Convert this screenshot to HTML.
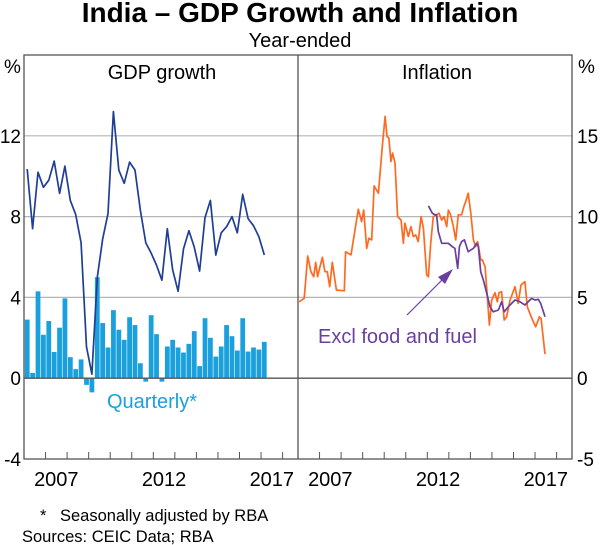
<!DOCTYPE html>
<html><head><meta charset="utf-8">
<style>
html,body{margin:0;padding:0;background:#fff;}
svg{display:block;font-family:"Liberation Sans",Arial,sans-serif;}
</style></head>
<body>
<svg id="chart" width="600" height="545" viewBox="0 0 600 545" xmlns="http://www.w3.org/2000/svg">
<text x="300" y="22" text-anchor="middle" font-size="28" font-weight="bold" fill="#000">India – GDP Growth and Inflation</text>
<text x="300" y="47" text-anchor="middle" font-size="20" fill="#000">Year-ended</text>
<text x="4" y="73" font-size="19">%</text>
<text x="578" y="73" font-size="19">%</text>
<text x="162" y="79" text-anchor="middle" font-size="20">GDP growth</text>
<text x="437" y="79" text-anchor="middle" font-size="20">Inflation</text>
<g id="grid"></g>
<g id="bars"></g>
<g id="lines"></g>
<g id="frame"></g>
<g id="axes"></g>
<text x="107" y="408" font-size="20" fill="#1aa0dc">Quarterly*</text>
<text x="318" y="343" font-size="20" fill="#6a3fa0">Excl food and fuel</text>
<line x1="407" y1="315" x2="446" y2="276" stroke="#6a3fa0" stroke-width="1.2"/>
<polygon points="453,269 438,277 445,284" fill="#6a3fa0"/>
<text x="40" y="521" font-size="16.5">*</text>
<text x="60" y="521" font-size="16.5">Seasonally adjusted by RBA</text>
<text x="22" y="542" font-size="16.5">Sources: CEIC Data; RBA</text>
</svg>
<script>
// ---- data ----
const gdpStart = 2006.15; // first quarter position (years)
const gdpYearEnded = [10.35,7.4,10.2,9.45,9.8,10.75,9.15,10.5,8.8,8.1,6.7,1.55,0.2,5.0,6.9,8.15,13.2,10.3,9.65,10.7,10.3,8.3,6.7,6.2,5.6,4.85,7.4,5.35,4.3,6.4,7.3,6.5,5.3,7.95,8.8,6.1,7.2,7.5,8.0,7.2,9.1,7.9,7.55,7.0,6.1];
const gdpQuarterly = [2.9,0.26,4.3,2.15,2.83,1.3,2.5,3.95,1.04,0.45,0.93,-0.33,-0.7,5.0,2.73,1.52,3.37,2.4,1.9,3.02,2.63,0.74,-0.17,3.12,2.18,-0.17,1.57,1.9,1.52,1.27,1.7,2.33,0.6,2.97,2.0,1.07,1.57,2.63,2.08,1.37,2.97,1.32,1.52,1.42,1.8];
const cpiDates = [2006.05,2006.29,2006.45,2006.60,2006.73,2006.82,2006.91,2007.02,2007.13,2007.25,2007.36,2007.47,2007.59,2007.78,2008.15,2008.21,2008.46,2008.80,2008.95,2009.05,2009.19,2009.29,2009.42,2009.53,2009.73,2009.91,2010.04,2010.13,2010.22,2010.31,2010.39,2010.50,2010.62,2010.78,2010.89,2010.96,2011.12,2011.24,2011.35,2011.46,2011.58,2011.71,2011.82,2011.97,2012.05,2012.16,2012.28,2012.43,2012.54,2012.67,2012.78,2012.90,2012.98,2013.08,2013.21,2013.32,2013.44,2013.59,2013.70,2013.78,2013.90,2014.03,2014.14,2014.24,2014.34,2014.48,2014.55,2014.68,2014.88,2014.99,2015.14,2015.25,2015.33,2015.45,2015.57,2015.68,2015.84,2016.07,2016.22,2016.35,2016.53,2016.64,2016.76,2016.92,2017.03,2017.20,2017.28,2017.46];
const cpiValues = [4.73,4.94,7.56,6.59,6.28,7.17,6.28,6.90,7.48,6.59,6.59,5.66,7.17,5.46,5.41,7.83,7.63,10.46,9.69,10.40,8.04,8.66,8.56,11.90,11.45,14.34,16.20,14.96,14.86,13.41,13.93,13.31,10.00,9.79,8.35,9.59,8.76,9.38,8.76,8.87,8.45,10.00,9.28,6.39,6.28,8.35,10.00,10.11,10.21,9.79,10.00,9.38,10.40,10.11,9.38,8.56,10.11,10.11,10.62,10.93,11.45,10.11,8.56,8.14,8.45,7.32,7.32,6.90,3.29,4.84,5.29,4.73,5.29,5.35,3.60,3.80,4.84,5.66,4.63,5.77,5.97,4.42,4.01,3.49,3.18,3.80,3.69,1.49];
const coreDates = [2012.05,2012.23,2012.36,2012.43,2012.51,2012.67,2012.98,2013.16,2013.28,2013.41,2013.49,2013.59,2013.72,2013.90,2014.14,2014.29,2014.37,2014.48,2014.60,2014.76,2014.91,2015.06,2015.30,2015.45,2015.57,2015.76,2016.07,2016.30,2016.53,2016.84,2017.00,2017.15,2017.26,2017.46];
const coreValues = [10.66,10.21,10.11,10.11,9.07,8.35,8.35,8.14,8.04,6.80,8.14,8.45,8.56,7.83,8.04,8.35,8.14,6.59,6.08,5.25,4.42,4.11,4.22,4.73,4.11,4.42,4.84,4.73,4.53,4.94,4.84,4.88,4.63,3.80];
const leftTicks = [-4,0,4,8,12];
const rightTicks = [-5,0,5,10,15];
const yearLabels = [2007,2012,2017];
const yearTicks = [2007,2008,2009,2010,2011,2012,2013,2014,2015,2016,2017,2018];

// ---- scales ----
const TOP=55, BOT=459, L0=24, L1=298, R1=572, PXY=21.55;
const xL = t => L0 + (t-2006)*PXY;
const xR = t => L1 + (t-2006)*PXY;
const yL = v => TOP + (16-v)/20*(BOT-TOP);
const yR = v => TOP + (20-v)/25*(BOT-TOP);
const NS="http://www.w3.org/2000/svg";
function mk(tag, attrs, parent){const e=document.createElementNS(NS,tag);for(const k in attrs)e.setAttribute(k,attrs[k]);parent.appendChild(e);return e;}
const grid=document.getElementById('grid'), bars=document.getElementById('bars'), lines=document.getElementById('lines'), frame=document.getElementById('frame'), axes=document.getElementById('axes');

leftTicks.forEach(v=>{
  if(v!==0 && v!==-4){
    const g=mk('line',{x1:L0,x2:R1,y1:yL(v),y2:yL(v),stroke:'#b5b5b5','stroke-width':1.2},grid);
    
    
  }
  const t=mk('text',{x:21,y:yL(v)+7,'text-anchor':'end','font-size':19},axes);
  t.textContent=v;
  
  
});
rightTicks.forEach(v=>{
  const t=mk('text',{x:577,y:yR(v)+7,'font-size':19},axes);
  t.textContent=v;
  
  
});

// bars
gdpQuarterly.forEach((v,i)=>{
  const t=gdpStart+0.25*i;
  const x=xL(t-0.125)+0.3, w=0.25*PXY-0.6;
  const y0=yL(0), y1=yL(v);
  const r=mk('rect',{x:x,y:Math.min(y0,y1),width:w,height:Math.abs(y1-y0),fill:'#1aa0dc'},bars);
  
  
});

function path(xs,ys,fx,fy,color,name){
  const d=xs.map((t,i)=>(i?'L':'M')+fx(t).toFixed(1)+','+fy(ys[i]).toFixed(1)).join(' ');
  const p=mk('path',{d:d,fill:'none',stroke:color,'stroke-width':1.7,'stroke-linejoin':'round'},lines);
  
  
}
path(gdpYearEnded.map((v,i)=>gdpStart+0.25*i),gdpYearEnded,xL,yL,'#1f3e96','gdp-year-ended-line');
path(cpiDates,cpiValues,xR,yR,'#ff6a21','cpi-inflation-line');
path(coreDates,coreValues,xR,yR,'#6a3fa0','core-inflation-line');

// zero lines & frame
const z=mk('line',{x1:L0,x2:R1,y1:yL(0),y2:yL(0),stroke:'#555','stroke-width':1.3},frame);


const fr=mk('rect',{x:L0,y:TOP,width:R1-L0,height:BOT-TOP,fill:'none',stroke:'#555','stroke-width':1.3},frame);


const dv=mk('line',{x1:L1,x2:L1,y1:TOP,y2:BOT,stroke:'#555','stroke-width':1.3},frame);



[xL,xR].forEach(fx=>{
  yearTicks.forEach(t=>{
    const tk=mk('line',{x1:fx(t),x2:fx(t),y1:BOT,y2:BOT-7,stroke:'#555','stroke-width':1},frame);
    
    
  });
  yearLabels.forEach(t=>{
    const tx=mk('text',{x:fx(t+0.5),y:486,'text-anchor':'middle','font-size':20},axes);
    tx.textContent=t;
    
    
  });
});
</script>
</body></html>
